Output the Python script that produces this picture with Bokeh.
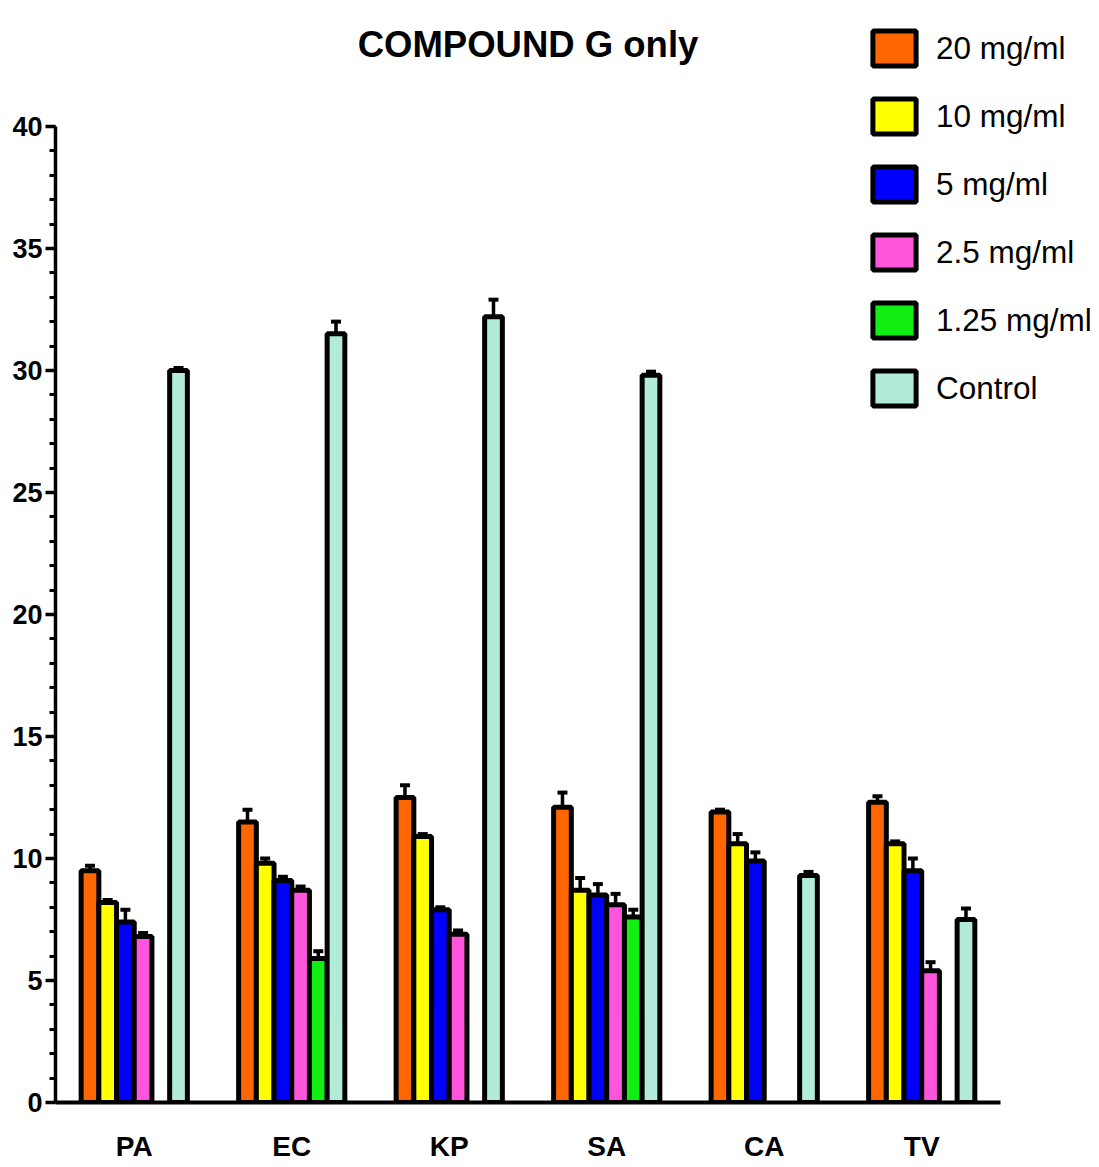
from bokeh.plotting import figure
from bokeh.models import (ColumnDataSource, Range1d, Legend, LegendItem, Label,
                          Whisker, TeeHead, SingleIntervalTicker, FixedTicker)
from bokeh.embed import file_html
from bokeh.resources import INLINE

categories = ["PA", "EC", "KP", "SA", "CA", "TV"]
series_names = ["20 mg/ml", "10 mg/ml", "5 mg/ml", "2.5 mg/ml", "1.25 mg/ml", "Control"]
colors = ["#FF6600", "#FFFF00", "#0000FF", "#FF55DD", "#11EE11", "#B3EBD9"]

v20 = [9.5, 11.5, 12.5, 12.1, 11.9, 12.3]
v10 = [8.2, 9.8, 10.9, 8.7, 10.6, 10.6]
v5 = [7.4, 9.1, 7.9, 8.5, 9.9, 9.5]
v2_5 = [6.8, 8.7, 6.9, 8.1, None, 5.4]
v1_25 = [None, 5.9, None, 7.6, None, None]
vctrl = [30.0, 31.5, 32.2, 29.8, 9.3, 7.5]

e20 = [0.2, 0.5, 0.5, 0.6, 0.1, 0.25]
e10 = [0.1, 0.2, 0.1, 0.5, 0.4, 0.1]
e5 = [0.5, 0.15, 0.1, 0.45, 0.35, 0.5]
e2_5 = [0.15, 0.15, 0.15, 0.45, None, 0.35]
e1_25 = [None, 0.3, None, 0.3, None, None]
ectrl = [0.1, 0.5, 0.7, 0.15, 0.15, 0.45]

values = [v20, v10, v5, v2_5, v1_25, vctrl]
errors = [e20, e10, e5, e2_5, e1_25, ectrl]

FONT = "Liberation Sans"

ncat = len(categories)
centers = [i + 0.5 for i in range(ncat)]
step = 0.1124
offsets = [(i - 2.5) * step for i in range(len(series_names))]

p = figure(x_range=Range1d(0, 6.578), y_range=Range1d(0, 45.16),
           frame_width=1036, frame_height=1102,
           min_border_left=55, min_border_right=0, min_border_top=0, min_border_bottom=60,
           output_backend="svg", toolbar_location=None, tools="")

p.outline_line_color = None
p.xgrid.grid_line_color = None
p.ygrid.grid_line_color = None

items = []
for name, col, vals, errs, off in zip(series_names, colors, values, errors, offsets):
    xs = [c + off for c, v in zip(centers, vals) if v is not None]
    tops = [v for v in vals if v is not None]
    es = [e for e, v in zip(errs, vals) if v is not None]
    src = ColumnDataSource(dict(x=xs, top=tops,
                                upper=[t + e for t, e in zip(tops, es)],
                                lower=[t - e for t, e in zip(tops, es)]))
    r = p.vbar(x="x", top="top", bottom=0, width=step,
               source=src, fill_color=col, line_color="black", line_width=5)
    w = Whisker(source=src, base="x", upper="upper", lower="lower",
                line_color="black", line_width=3.5,
                upper_head=TeeHead(size=10, line_width=4, line_color="black"),
                lower_head=TeeHead(size=9, line_width=2.5, line_color="black"))
    p.add_layout(w)
    items.append(LegendItem(label=name, renderers=[r]))

legend = Legend(items=items, location=(812, 692), orientation="vertical",
                glyph_width=54, glyph_height=44, label_height=44, spacing=24,
                label_standoff=15, padding=0, margin=0,
                border_line_color=None, background_fill_alpha=0,
                label_text_font=FONT, label_text_font_size="31.5px",
                label_text_color="black")
p.add_layout(legend, "center")

title = Label(x=ncat / 2, y=1058, x_units="data", y_units="screen",
              text="COMPOUND G only", text_align="center", text_baseline="alphabetic",
              text_font=FONT, text_font_style="bold", text_font_size="36.5px",
              text_color="black")
p.add_layout(title)

p.yaxis.bounds = (0, 40)
p.yaxis.ticker = SingleIntervalTicker(interval=5, num_minor_ticks=5)
p.yaxis.axis_line_width = 3.5
p.yaxis.major_tick_line_width = 3.5
p.yaxis.minor_tick_line_width = 3
p.yaxis.major_tick_out = 10
p.yaxis.major_tick_in = 0
p.yaxis.minor_tick_out = 6
p.yaxis.minor_tick_in = 0
p.yaxis.major_label_standoff = 3
p.yaxis.major_label_text_font = FONT
p.yaxis.major_label_text_font_style = "bold"
p.yaxis.major_label_text_font_size = "27px"
p.yaxis.major_label_text_color = "black"

p.xaxis.bounds = (0, ncat)
p.xaxis.ticker = FixedTicker(ticks=centers)
p.xaxis.major_label_overrides = {c: lab for c, lab in zip(centers, categories)}
p.xaxis.axis_line_width = 4
p.xaxis.major_tick_line_color = None
p.xaxis.minor_tick_line_color = None
p.xaxis.major_tick_out = 0
p.xaxis.major_tick_in = 0
p.xaxis.minor_tick_out = 0
p.xaxis.major_label_standoff = 28
p.xaxis.major_label_text_font = FONT
p.xaxis.major_label_text_font_style = "bold"
p.xaxis.major_label_text_font_size = "28px"
p.xaxis.major_label_text_color = "black"

open("out.html", "w").write(file_html(p, INLINE))
